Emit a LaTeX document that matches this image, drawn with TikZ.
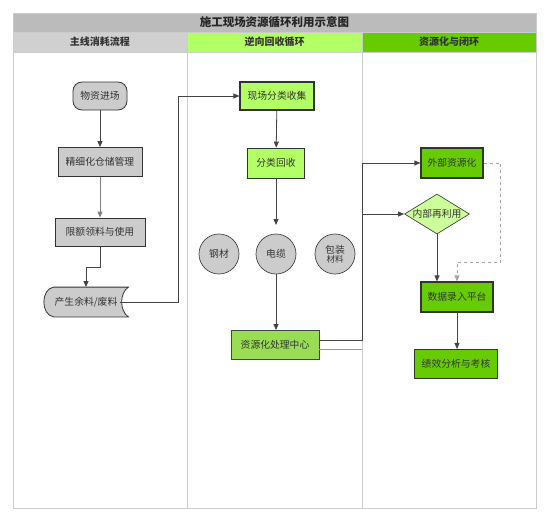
\documentclass[tikz,border=0pt]{standalone}
\usepackage{fontspec}
\setmainfont{Noto Sans CJK SC}
\usetikzlibrary{shapes.geometric,calc,arrows.meta}
\definecolor{framegray}{HTML}{CCCCCC}
\definecolor{titlegray}{HTML}{BBBBBB}
\definecolor{headgray}{HTML}{D0D0D0}
\definecolor{lightgreen}{HTML}{B3FF66}
\definecolor{midgreen}{HTML}{99DD55}
\definecolor{darkgreen}{HTML}{66CC00}
\definecolor{palegreen}{HTML}{CCFF99}
\definecolor{boxgray}{HTML}{CCCCCC}
\definecolor{inkgray}{HTML}{333333}
\definecolor{linegray}{HTML}{444444}
\newcommand{\nodefont}{\fontsize{9.8}{11}\selectfont}
\tikzset{
  box/.style={draw=inkgray, line width=0.8pt, inner sep=0pt, text=inkgray, font=\nodefont},
  graybox/.style={box, fill=boxgray},
  greenbox/.style={box, line width=1.1pt},
  material/.style={circle, draw=linegray, line width=0.7pt, fill=boxgray, minimum size=40pt, inner sep=0pt, text=inkgray, font=\nodefont, align=center},
  decide/.style={diamond, draw=linegray, line width=0.7pt, fill=palegreen, minimum width=65pt, minimum height=40pt, inner sep=0pt, text=inkgray, font=\nodefont},
  flow/.style={draw=linegray, line width=0.8pt, -{Triangle[length=6pt,width=5pt]}},
  dashflow/.style={flow, draw=gray!70, dashed},
  laneline/.style={draw=framegray, line width=0.8pt}
}

\begin{document}
\begin{tikzpicture}[x=1pt,y=-1pt]
  \useasboundingbox (0,0) rectangle (550,523);
  % title and lane heads
  \filldraw[fill=titlegray, draw=framegray] (13,13) rectangle (536,32);
  \node[font=\fontsize{11.5}{12}\selectfont\bfseries, text=black!85] (title) at (274.5,22.5) {施工现场资源循环利用示意图};
  \foreach \xa/\xb/\c/\t in {13/187/headgray/主线消耗流程, 187/362/lightgreen/逆向回收循环, 362/536/darkgreen/资源化与闭环}{
    \filldraw[fill=\c, draw=framegray] (\xa,32) rectangle (\xb,52);
    \node[font=\fontsize{10}{11}\selectfont\bfseries, text=inkgray] at ({(\xa+\xb)/2},42) {\t};
  }
  \draw[laneline] (13,52) rectangle (536,508);
  \draw[laneline] (187,52) -- (187,508);
  \draw[laneline] (362,52) -- (362,508);

  % main line
  \node[graybox, rounded corners=9pt, minimum width=54pt, minimum height=28pt] (enter) at (100,96) {物资进场};
  \node[graybox, minimum width=84pt, minimum height=29pt] (store) at (100,162) {精细化仓储管理};
  \node[graybox, minimum width=90pt, minimum height=28pt] (quota) at (100,232) {限额领料与使用};
  \node[box, draw=none, minimum width=84pt, minimum height=29pt] (waste) at (86,302) {};
  \filldraw[fill=boxgray, draw=inkgray, line width=0.8pt]
    ($(waste.north west)+(10,0)$) -- (waste.north east)
    .. controls +(-9,6) and +(-9,-6) .. (waste.south east)
    -- ($(waste.south west)+(10,0)$)
    .. controls +(-13,-2) and +(-13,2) .. cycle;
  \node[text=inkgray, font=\nodefont] (wastetext) at (waste) {产生余料/废料};
  \coordinate (wasteout) at ($(waste.east)+(-8,0)$);

  % reverse loop
  \node[greenbox, fill=lightgreen, minimum width=74pt, minimum height=28pt] (collect) at (277,96) {现场分类收集};
  \node[box, fill=lightgreen, minimum width=57pt, minimum height=30pt] (sort) at (276,163) {分类回收};
  \node[material] (steel) at (219,254) {钢材};
  \node[material] (cable) at (276,254) {电缆};
  \node[material] (pack) at (335,254) {包装\\[-2pt]{\fontsize{8.5}{9}\selectfont 材料}};
  \node[box, draw=linegray, fill=midgreen, minimum width=88pt, minimum height=29pt] (center) at (275,345) {资源化处理中心};

  % closing loop
  \node[greenbox, fill=darkgreen, minimum width=62pt, minimum height=30pt] (extern) at (452,163) {外部资源化};
  \node[decide] (reuse) at (437,214) {\makebox[0pt]{内部再利用}};
  \node[greenbox, fill=darkgreen, minimum width=72pt, minimum height=30pt] (entry) at (457,297) {数据录入平台};
  \node[greenbox, fill=darkgreen, minimum width=83pt, minimum height=29pt] (assess) at (456,364) {绩效分析与考核};

  % connectors
  \coordinate (turnA) at (178,302);
  \coordinate (splitA) at (362,340);
  \coordinate (splitB) at (362,349);
  \coordinate (sortend) at (276,225);
  \draw[flow] (enter) -- (store);
  \draw[flow, draw=gray] (store) -- (quota);
  \draw[flow] (quota.south) -- ++(0,21) -| (waste.north);
  \draw[flow] (wasteout) -- (turnA) |- (collect.west);
  \draw[flow] (collect) -- (sort);
  \draw[flow] (sort) -- (sortend);
  \draw[flow] (cable) -- (cable |- center.north);
  \draw[flow] ($(center.east)+(0,-5)$) -- (splitA) |- (extern.west);
  \draw[draw=gray!80, line width=0.8pt] ($(center.east)+(0,4)$) -- (splitB);
  \draw[flow] (splitA) |- (reuse.west);
  \draw[dashflow] (extern.east) -- ++(17,0) -- ++(0,99) -| (entry.north);
  \draw[flow] (reuse.south) -- (reuse.south |- entry.north);
  \draw[flow] (entry.south) -- (entry.south |- assess.north);
\end{tikzpicture}
\end{document}
